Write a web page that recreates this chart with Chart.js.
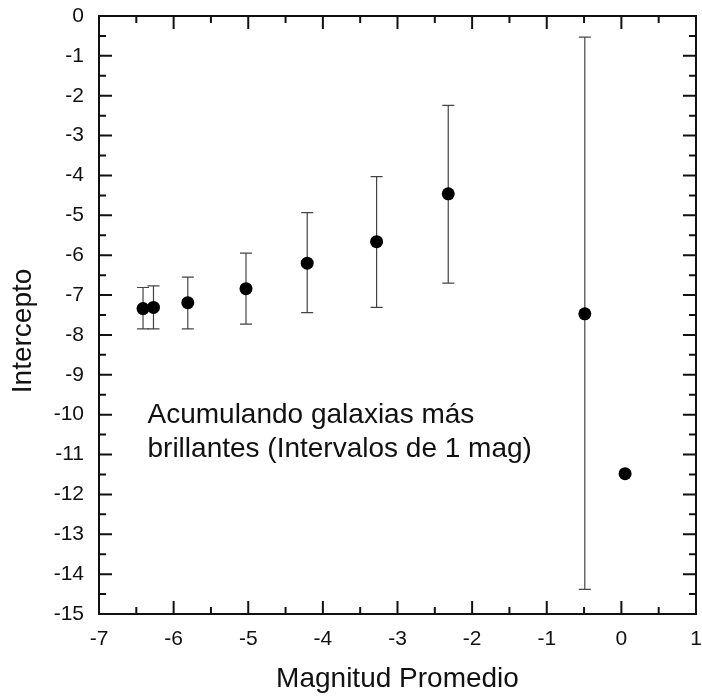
<!DOCTYPE html>
<html>
<head>
<meta charset="utf-8">
<script src="https://cdn.jsdelivr.net/npm/chart.js@4"></script>
<style>
  body { margin: 0; background: #fff; }
  #wrap { width: 702px; height: 698px; position: relative; }
</style>
</head>
<body>
<div id="wrap"><canvas id="plot"></canvas></div>
<script>
// valores
let magnitud = [-6.41, -6.27, -5.81, -5.03, -4.21, -3.28, -2.32, -0.49, 0.05];
let intercepto = [-7.34, -7.31, -7.19, -6.84, -6.20, -5.66, -4.46, -7.47, -11.48];
let errArriba = [-6.81, -6.77, -6.55, -5.95, -4.93, -4.03, -2.24, -0.53, null];
let errAbajo = [-7.85, -7.85, -7.85, -7.73, -7.44, -7.31, -6.70, -14.38, null];
let notaLineas = ['Acumulando galaxias más', 'brillantes (Intervalos de 1 mag)'];
let tituloY = 'Intercepto';

let fuente = '"Liberation Sans", Arial, Helvetica, sans-serif';

let puntos = magnitud.map((m, i) => ({ x: m, y: intercepto[i] }));

function sinPadding(scale) {
  scale.paddingTop = 0;
  scale.paddingBottom = 0;
  scale.paddingLeft = 0;
  scale.paddingRight = 0;
}

// barras de error
let errorBars = {
  id: 'errorBars',
  beforeDatasetsDraw(chart) {
    let ctx = chart.ctx;
    let xs = chart.scales.x;
    let ys = chart.scales.y;
    ctx.save();
    ctx.strokeStyle = '#444';
    ctx.lineWidth = 1.2;
    for (let i = 0; i < magnitud.length; i++) {
      if (errArriba[i] == null) continue;
      let px = xs.getPixelForValue(magnitud[i]);
      let top = ys.getPixelForValue(errArriba[i]);
      let bot = ys.getPixelForValue(errAbajo[i]);
      ctx.beginPath();
      ctx.moveTo(px, top); ctx.lineTo(px, bot);
      ctx.moveTo(px - 6, top); ctx.lineTo(px + 6, top);
      ctx.moveTo(px - 6, bot); ctx.lineTo(px + 6, bot);
      ctx.stroke();
    }
    ctx.restore();
  }
};

// marco, marcas hacia adentro, titulo Y y nota
let frameTicks = {
  id: 'frameTicks',
  afterDraw(chart) {
    let ctx = chart.ctx;
    let a = chart.chartArea;
    let xs = chart.scales.x;
    let ys = chart.scales.y;
    ctx.save();
    ctx.strokeStyle = '#111';
    ctx.lineWidth = 2;
    ctx.strokeRect(a.left, a.top, a.right - a.left, a.bottom - a.top);
    ctx.beginPath();
    for (let v = -15; v <= 0; v += 0.5) {
      let py = ys.getPixelForValue(v);
      let len = Number.isInteger(v) ? 13 : 7;
      ctx.moveTo(a.left, py); ctx.lineTo(a.left + len, py);
      ctx.moveTo(a.right, py); ctx.lineTo(a.right - len, py);
    }
    for (let v = -7; v <= 1; v += 0.5) {
      let px = xs.getPixelForValue(v);
      let len = Number.isInteger(v) ? 13 : 7;
      ctx.moveTo(px, a.bottom); ctx.lineTo(px, a.bottom - len);
      ctx.moveTo(px, a.top); ctx.lineTo(px, a.top + len);
    }
    ctx.stroke();

    ctx.fillStyle = '#111';
    ctx.font = '28px ' + fuente;

    // titulo eje Y (algo por debajo del centro, como en el original)
    ctx.save();
    ctx.translate(23, ys.getPixelForValue(-7.9));
    ctx.rotate(-Math.PI / 2);
    ctx.textAlign = 'center';
    ctx.textBaseline = 'middle';
    ctx.fillText(tituloY, 0, 0);
    ctx.restore();

    // nota
    ctx.textAlign = 'left';
    ctx.textBaseline = 'alphabetic';
    let tx = xs.getPixelForValue(-6.35);
    ctx.fillText(notaLineas[0], tx, ys.getPixelForValue(-10.21));
    ctx.fillText(notaLineas[1], tx, ys.getPixelForValue(-11.06));
    ctx.restore();
  }
};

new Chart(document.getElementById('plot'), {
  type: 'scatter',
  data: {
    datasets: [{
      label: 'Intercepto',
      data: puntos,
      pointRadius: 6.5,
      pointHoverRadius: 6.5,
      pointBackgroundColor: '#000',
      pointBorderWidth: 0,
      showLine: false
    }]
  },
  options: {
    responsive: true,
    maintainAspectRatio: false,
    animation: false,
    layout: { autoPadding: false, padding: { top: 16, right: 6, left: 0, bottom: 0 } },
    plugins: {
      legend: { display: false },
      tooltip: { enabled: false }
    },
    scales: {
      x: {
        type: 'linear',
        min: -7,
        max: 1,
        afterFit(scale) { scale.height = 84; sinPadding(scale); },
        grid: { display: false, drawTicks: false },
        border: { display: false },
        ticks: { stepSize: 1, padding: 13, color: '#111', font: { family: fuente, size: 21 } },
        title: { display: true, text: 'Magnitud Promedio', color: '#111', font: { family: fuente, size: 28 }, padding: { top: 0, bottom: 2 } }
      },
      y: {
        type: 'linear',
        min: -15,
        max: 0,
        afterFit(scale) { scale.width = 99; sinPadding(scale); },
        grid: { display: false, drawTicks: false },
        border: { display: false },
        ticks: { stepSize: 1, padding: 15, color: '#111', font: { family: fuente, size: 21 } }
      }
    }
  },
  plugins: [errorBars, frameTicks]
});
</script>
</body>
</html>
